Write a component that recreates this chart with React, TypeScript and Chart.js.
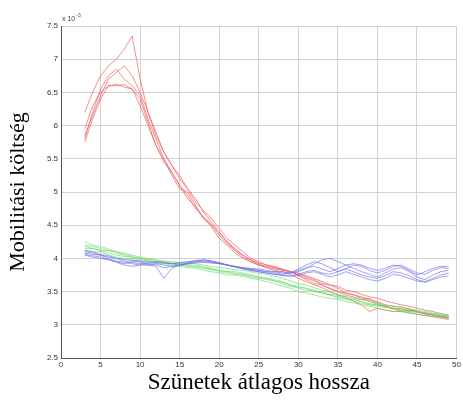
import React, { useEffect, useRef } from "react";
import { Chart, registerables } from "chart.js";

Chart.register(...registerables);

const xs = Array.from({ length: 47 }, (_, i) => i + 3);

const red1 = [5.75,6.1,6.4,6.6,6.6,6.62,6.55,6.3,6.0,5.7,5.45,5.3,5.1,4.9,4.78,4.62,4.5,4.35,4.22,4.12,4.05,3.97,3.92,3.86,3.84,3.83,3.8,3.76,3.74,3.7,3.65,3.6,3.58,3.52,3.5,3.46,3.42,3.4,3.36,3.33,3.3,3.28,3.25,3.22,3.2,3.17,3.14];
const red2 = [6.2,6.5,6.75,6.9,7.0,7.15,7.35,6.7,6.2,5.85,5.6,5.4,5.2,5.05,4.85,4.72,4.6,4.45,4.3,4.2,4.1,4.0,3.95,3.9,3.86,3.82,3.8,3.78,3.72,3.68,3.62,3.6,3.55,3.48,3.45,3.42,3.38,3.35,3.3,3.28,3.27,3.24,3.2,3.18,3.15,3.12,3.1];
const red3 = [5.8,6.2,6.55,6.75,6.85,6.7,6.6,6.45,6.1,5.8,5.5,5.25,5.05,5.0,4.8,4.6,4.48,4.3,4.2,4.08,4.0,3.95,3.9,3.88,3.86,3.83,3.8,3.74,3.68,3.62,3.6,3.55,3.5,3.48,3.45,3.4,3.36,3.3,3.28,3.25,3.24,3.22,3.2,3.17,3.15,3.13,3.12];
const red4 = [5.95,6.3,6.5,6.6,6.62,6.58,6.55,6.4,6.05,5.7,5.5,5.3,5.1,4.95,4.75,4.62,4.52,4.38,4.25,4.15,4.05,3.98,3.93,3.9,3.88,3.84,3.8,3.75,3.7,3.66,3.6,3.54,3.5,3.45,3.42,3.38,3.4,3.32,3.28,3.24,3.2,3.22,3.2,3.16,3.14,3.12,3.1];
const red5 = [5.85,6.15,6.45,6.7,6.8,6.9,6.75,6.5,6.2,5.9,5.6,5.4,5.25,5.05,4.9,4.7,4.55,4.4,4.25,4.12,4.02,3.95,3.9,3.86,3.82,3.8,3.76,3.7,3.65,3.6,3.56,3.5,3.45,3.42,3.35,3.3,3.2,3.25,3.22,3.2,3.2,3.18,3.16,3.14,3.12,3.1,3.08];

const green1 = [4.2,4.18,4.15,4.12,4.1,4.06,4.03,4.0,3.98,3.98,3.96,3.95,3.94,3.93,3.92,3.9,3.88,3.86,3.85,3.83,3.82,3.8,3.78,3.76,3.73,3.7,3.66,3.62,3.6,3.56,3.52,3.5,3.46,3.43,3.4,3.38,3.35,3.33,3.3,3.28,3.26,3.24,3.22,3.2,3.18,3.16,3.15];
const green2 = [4.25,4.2,4.18,4.14,4.1,4.08,4.05,4.02,4.0,3.97,3.95,3.93,3.92,3.9,3.9,3.88,3.85,3.82,3.8,3.8,3.78,3.75,3.72,3.7,3.68,3.65,3.6,3.55,3.52,3.5,3.48,3.45,3.42,3.4,3.38,3.35,3.3,3.28,3.26,3.25,3.22,3.2,3.2,3.18,3.16,3.14,3.12];
const green3 = [4.12,4.1,4.1,4.05,4.02,4.0,3.98,3.95,3.93,3.92,3.92,3.9,3.88,3.86,3.85,3.82,3.8,3.78,3.75,3.75,3.73,3.7,3.68,3.65,3.62,3.58,3.55,3.5,3.48,3.45,3.42,3.4,3.38,3.35,3.33,3.3,3.28,3.25,3.22,3.2,3.2,3.18,3.16,3.14,3.12,3.12,3.1];
const green4 = [4.18,4.15,4.12,4.12,4.08,4.05,4.0,3.98,3.96,3.95,3.94,3.92,3.9,3.9,3.88,3.86,3.84,3.8,3.78,3.76,3.75,3.72,3.7,3.68,3.66,3.62,3.58,3.56,3.55,3.52,3.48,3.45,3.4,3.38,3.36,3.32,3.3,3.3,3.28,3.25,3.22,3.2,3.18,3.18,3.15,3.13,3.12];
const green5 = [4.15,4.15,4.12,4.08,4.05,4.03,4.02,4.0,3.97,3.95,3.93,3.92,3.9,3.88,3.87,3.85,3.83,3.82,3.8,3.78,3.76,3.74,3.72,3.7,3.66,3.64,3.6,3.58,3.55,3.5,3.5,3.46,3.44,3.4,3.38,3.35,3.32,3.3,3.27,3.25,3.24,3.22,3.2,3.18,3.17,3.15,3.13];

const blue1 = [4.08,4.06,4.05,4.0,3.95,3.92,3.95,3.95,3.9,3.88,3.7,3.85,3.9,3.92,3.95,3.96,3.95,3.93,3.9,3.88,3.86,3.85,3.84,3.82,3.8,3.8,3.78,3.8,3.85,3.92,3.98,4.0,3.95,3.9,3.92,3.9,3.85,3.82,3.85,3.9,3.88,3.82,3.75,3.8,3.85,3.88,3.88];
const blue2 = [4.1,4.08,4.05,4.02,4.0,3.98,3.97,3.96,3.95,3.94,3.93,3.92,3.94,3.95,3.96,3.95,3.94,3.92,3.9,3.88,3.86,3.84,3.82,3.8,3.78,3.76,3.78,3.82,3.86,3.88,3.84,3.8,3.85,3.9,3.85,3.8,3.76,3.72,3.78,3.84,3.86,3.8,3.72,3.68,3.75,3.8,3.82];
const blue3 = [4.05,4.02,4.0,3.98,3.96,3.94,3.92,3.9,3.9,3.92,3.9,3.88,3.9,3.93,3.95,3.98,3.96,3.94,3.9,3.87,3.84,3.82,3.8,3.78,3.76,3.75,3.74,3.76,3.8,3.82,3.78,3.76,3.8,3.84,3.8,3.75,3.72,3.7,3.74,3.8,3.78,3.74,3.68,3.65,3.7,3.75,3.78];
const blue4 = [4.12,4.1,4.06,4.04,4.0,3.96,3.94,3.92,3.93,3.95,3.94,3.92,3.92,3.94,3.97,3.98,3.96,3.93,3.9,3.87,3.85,3.83,3.82,3.8,3.8,3.78,3.78,3.84,3.9,3.95,3.92,3.86,3.8,3.85,3.9,3.88,3.82,3.78,3.82,3.88,3.9,3.84,3.78,3.76,3.82,3.86,3.85];
const blue5 = [4.06,4.04,4.02,3.98,3.94,3.9,3.88,3.9,3.92,3.9,3.86,3.88,3.9,3.92,3.93,3.94,3.93,3.92,3.9,3.88,3.85,3.82,3.8,3.78,3.76,3.74,3.73,3.74,3.78,3.8,3.76,3.72,3.75,3.8,3.76,3.72,3.68,3.66,3.7,3.76,3.74,3.7,3.66,3.64,3.68,3.72,3.74];

const xTitle = "Szünetek átlagos hossza";
const yTitle = "Mobilitási költség";
const exponentLabel = "x 10";
const exponentPower = "-3";

const blueSeries = [blue1, blue2, blue3, blue4, blue5];
const greenSeries = [green1, green2, green3, green4, green5];
const redSeries = [red1, red2, red3, red4, red5];

const BLUE = "rgba(110,110,235,0.65)";
const GREEN = "rgba(100,215,100,0.6)";
const RED = "rgba(238,95,95,0.7)";

export default function App() {
  const ref = useRef<HTMLCanvasElement | null>(null);
  useEffect(() => {
    document.body.style.margin = "0";
    const canvas = ref.current!;
    const mk = (arr: number[], color: string) => ({
      data: arr.map((v, i) => ({ x: xs[i], y: v })),
      borderColor: color,
      borderWidth: 1,
      pointRadius: 0,
      fill: false,
      tension: 0,
    });
    const datasets = [
      ...blueSeries.map((s) => mk(s, BLUE)),
      ...greenSeries.map((s) => mk(s, GREEN)),
      ...redSeries.map((s) => mk(s, RED)),
    ];
    const expPlugin = {
      id: "exp",
      afterDraw(chart: any) {
        const { ctx, chartArea } = chart;
        ctx.save();
        ctx.fillStyle = "#444";
        ctx.font = "7px 'Liberation Sans', Arial, sans-serif";
        ctx.textBaseline = "alphabetic";
        ctx.textAlign = "left";
        const x = chartArea.left + 1;
        const y = chartArea.top - 5;
        ctx.fillText(exponentLabel, x, y);
        const w = ctx.measureText(exponentLabel).width;
        ctx.font = "5px 'Liberation Sans', Arial, sans-serif";
        ctx.fillText(exponentPower, x + w + 1, y - 4);
        ctx.restore();
      },
    };
    const fmt = (v: any) => String(Math.round(Number(v) * 10) / 10);
    const chart = new Chart(canvas, {
      type: "line",
      data: { datasets: datasets as any },
      plugins: [expPlugin],
      options: {
        animation: false,
        responsive: false,
        maintainAspectRatio: false,
        layout: { padding: { top: 26, right: 6, left: 0, bottom: 0 } },
        plugins: { legend: { display: false }, tooltip: { enabled: false } },
        scales: {
          x: {
            type: "linear",
            min: 0,
            max: 50,
            ticks: {
              stepSize: 5,
              color: "#333",
              font: { size: 8, family: "'Liberation Sans', Arial, sans-serif" },
              padding: 2,
              maxRotation: 0,
              callback: fmt,
            },
            grid: { color: "rgba(205,205,205,0.9)", lineWidth: 1, drawTicks: false },
            border: { color: "#555", width: 1 },
            title: {
              display: true,
              text: xTitle,
              color: "#000",
              font: { size: 23, family: "'Liberation Serif', 'DejaVu Serif', serif" },
              padding: { top: 2, bottom: 8 },
            },
            afterFit(scale: any) {
              scale.height = 405 - 358;
            },
          },
          y: {
            type: "linear",
            min: 2.5,
            max: 7.5,
            ticks: {
              stepSize: 0.5,
              color: "#333",
              font: { size: 8, family: "'Liberation Sans', Arial, sans-serif" },
              padding: 3,
              callback: fmt,
            },
            grid: { color: "rgba(205,205,205,0.9)", lineWidth: 1, drawTicks: false },
            border: { color: "#555", width: 1 },
            title: {
              display: true,
              text: yTitle,
              color: "#000",
              font: { size: 22, family: "'Liberation Serif', 'DejaVu Serif', serif" },
              padding: { top: 5, bottom: 4 },
            },
            afterFit(scale: any) {
              scale.width = 61;
            },
          },
        },
      },
    });
    return () => chart.destroy();
  }, []);
  return (
    <div style={{ width: 463, height: 405, background: "#fff" }}>
      <canvas ref={ref} width={463} height={405} style={{ display: "block" }} />
    </div>
  );
}
